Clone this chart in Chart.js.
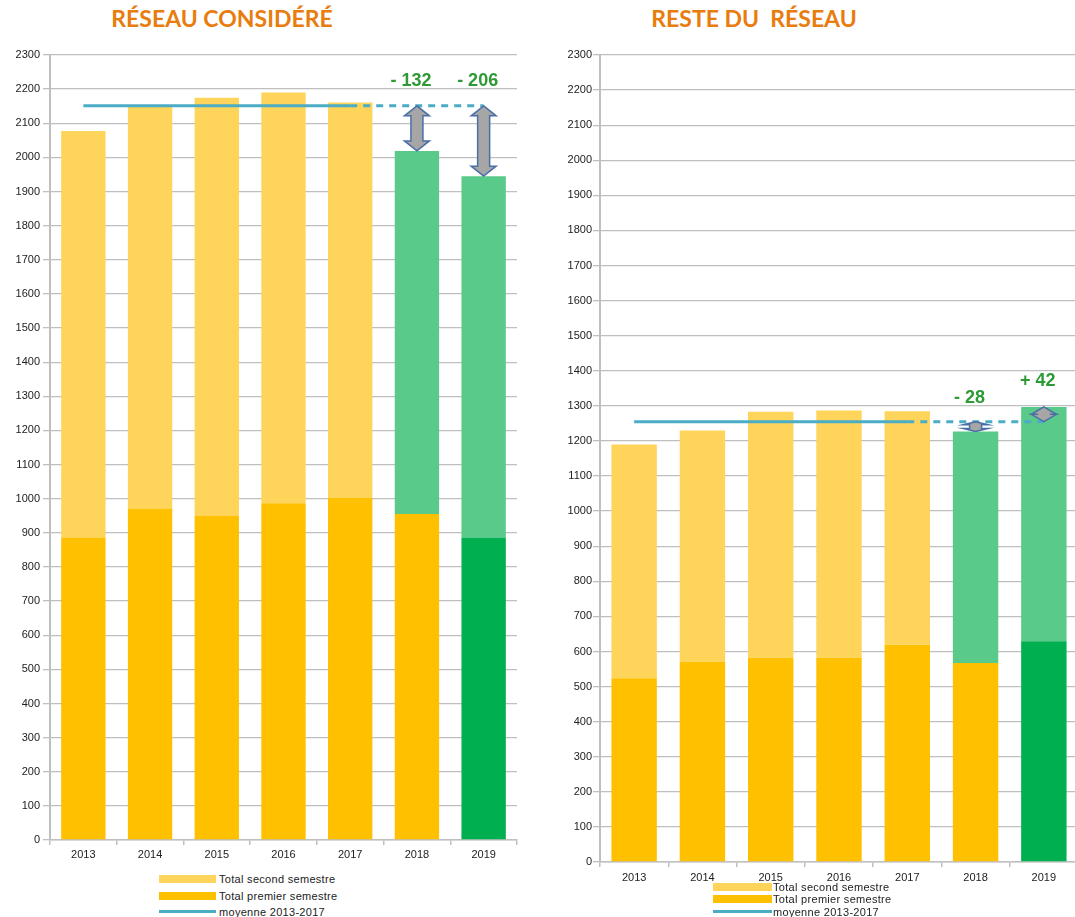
<!DOCTYPE html>
<html>
<head>
<meta charset="utf-8">
<script src="https://cdn.jsdelivr.net/npm/chart.js@4"></script>
<style>
  html, body { margin:0; padding:0; background:#fff; width:1075px; height:917px; overflow:hidden; position:relative; font-family:"Liberation Sans", Arial, sans-serif; }
  .title { position:absolute; top:7px; line-height:23px; font-family:Lato, "Open Sans", sans-serif; font-weight:bold; font-size:23px; color:#E97C0E; white-space:pre; transform:translateX(-50%); }
  .wrap { position:absolute; }
  .leg { position:absolute; font-size:11px; letter-spacing:0.3px; color:#222; white-space:nowrap; line-height:12px; }
  .sw { position:absolute; }
</style>
</head>
<body>
<div class="title" style="left:222px;">RÉSEAU CONSIDÉRÉ</div>
<div class="title" style="left:754px;">RESTE DU  RÉSEAU</div>

<div class="wrap" style="left:0px; top:40px;"><canvas id="c1" width="530" height="830"></canvas></div>
<div class="wrap" style="left:540px; top:40px;"><canvas id="c2" width="545" height="851"></canvas></div>

<!-- legends -->
<div class="sw" style="left:159px; top:875px; width:57px; height:8px; background:#FFD45A;"></div>
<div class="leg" style="left:219px; top:873px;">Total second semestre</div>
<div class="sw" style="left:159px; top:892px; width:57px; height:8px; background:#FFC000;"></div>
<div class="leg" style="left:219px; top:890px;">Total premier semestre</div>
<div class="sw" style="left:159px; top:910px; width:57px; height:3px; background:#4BACC6;"></div>
<div class="leg" style="left:219px; top:906px;">moyenne 2013-2017</div>

<div class="sw" style="left:713px; top:883px; width:59px; height:8px; background:#FFD45A;"></div>
<div class="leg" style="left:773px; top:881px;">Total second semestre</div>
<div class="sw" style="left:713px; top:895px; width:59px; height:8px; background:#FFC000;"></div>
<div class="leg" style="left:773px; top:893px;">Total premier semestre</div>
<div class="sw" style="left:713px; top:910px; width:59px; height:3px; background:#4BACC6;"></div>
<div class="leg" style="left:773px; top:906px;">moyenne 2013-2017</div>

<script>
const years = ['2013','2014','2015','2016','2017','2018','2019'];

// Réseau considéré
const premierLeft = [886, 971, 951, 987, 1002, 955, 886];
const secondLeft  = [1191, 1181, 1224, 1203, 1159, 1064, 1059];
const moyenneLeft = [2151, 2151, 2151, 2151, 2151, 2151, 2151];
const totalLeft   = [2077, 2152, 2175, 2190, 2161, 2019, 1945];
const ecartLeft   = [null, null, null, null, null, '- 132', '- 206'];
const ecartLeftPos = [null, null, null, null, null, 2225, 2225];

// Reste du réseau
const premierRight = [524, 571, 582, 582, 619, 567, 629];
const secondRight  = [666, 659, 701, 705, 666, 660, 668];
const moyenneRight = [1255, 1255, 1255, 1255, 1255, 1255, 1255];
const totalRight   = [1190, 1230, 1283, 1287, 1285, 1227, 1297];
const ecartRight   = [null, null, null, null, null, '- 28', '+ 42'];
const ecartRightPos = [null, null, null, null, null, 1321, 1371];

const yTicks = [0,100,200,300,400,500,600,700,800,900,1000,1100,1200,1300,1400,1500,1600,1700,1800,1900,2000,2100,2200,2300];

const colPremier = ['#FFC000','#FFC000','#FFC000','#FFC000','#FFC000','#FFC000','#00B050'];
const colSecond  = ['#FFD45A','#FFD45A','#FFD45A','#FFD45A','#FFD45A','#5ACA8A','#5ACA8A'];

const annotPlugin = {
  id: 'annot',
  afterDatasetsDraw(chart, args, opts) {
    const ctx = chart.ctx;
    const xs = chart.scales.x, ys = chart.scales.y;
    ctx.save();
    opts.total.forEach((t, i) => {
      if (opts.labels[i] == null) return;
      const x = xs.getPixelForValue(i);
      const y1 = ys.getPixelForValue(opts.mean[i]);
      const y2 = ys.getPixelForValue(t);
      const top = Math.min(y1, y2), bot = Math.max(y1, y2);
      const span = bot - top;
      const hl = Math.min(opts.head[i], span / 2);
      const hw = 12.5, sw = 6;
      ctx.beginPath();
      ctx.moveTo(x, top);
      ctx.lineTo(x + hw, top + hl);
      ctx.lineTo(x + sw, top + hl);
      ctx.lineTo(x + sw, bot - hl);
      ctx.lineTo(x + hw, bot - hl);
      ctx.lineTo(x, bot);
      ctx.lineTo(x - hw, bot - hl);
      ctx.lineTo(x - sw, bot - hl);
      ctx.lineTo(x - sw, top + hl);
      ctx.lineTo(x - hw, top + hl);
      ctx.closePath();
      ctx.fillStyle = '#A6A6A6';
      ctx.fill();
      ctx.lineWidth = 1.5;
      ctx.strokeStyle = '#4A6FA5';
      ctx.stroke();
      // label
      ctx.font = 'bold 18px "Liberation Sans", Arial, sans-serif';
      ctx.fillStyle = '#2E9A34';
      ctx.textAlign = 'center';
      ctx.textBaseline = 'middle';
      ctx.fillText(opts.labels[i], x - 6, ys.getPixelForValue(opts.labelPos[i]));
    });
    ctx.restore();
  }
};

function makeChart(id, premier, second, moyenne, total, labels, labelPos, layout) {
  return new Chart(document.getElementById(id), {
    type: 'bar',
    data: {
      labels: years,
      datasets: [
        { label: 'Total premier semestre', data: premier, backgroundColor: colPremier, stack: 'bars', order: 2,
          barPercentage: 0.665, categoryPercentage: 1.0 },
        { label: 'Total second semestre', data: second, backgroundColor: colSecond, stack: 'bars', order: 2,
          barPercentage: 0.665, categoryPercentage: 1.0 },
        { type: 'line', label: 'moyenne 2013-2017', data: moyenne, stack: 'line', order: 1,
          borderColor: '#4BACC6', borderWidth: 3, pointRadius: 0, fill: false,
          segment: { borderDash: c => c.p0DataIndex >= 4 ? [7, 6] : undefined } }
      ]
    },
    options: {
      responsive: false,
      animation: false,
      devicePixelRatio: 1,
      layout: { padding: layout.padding },
      plugins: {
        legend: { display: false },
        tooltip: { enabled: false },
        annot: { total: total, mean: moyenne, labels: labels, labelPos: labelPos, head: layout.head }
      },
      scales: {
        x: {
          stacked: true,
          grid: { display: true, drawOnChartArea: false, drawTicks: true, tickLength: 5, offset: true, color: '#BFBFBF', lineWidth: 1.5 },
          border: { display: true, color: '#BFBFBF', width: 1.5 },
          ticks: { font: { size: 11, family: '"Liberation Sans", Arial, sans-serif' }, color: '#222', padding: layout.xPad },
          afterFit: s => { s.height = layout.xH; }
        },
        y: {
          stacked: true,
          min: 0, max: 2300,
          afterBuildTicks: s => { s.ticks = yTicks.map(v => ({ value: v })); },
          grid: { color: '#BFBFBF', lineWidth: 1.3, tickLength: 7 },
          border: { display: true, color: '#BFBFBF', width: 2 },
          ticks: { font: { size: 11, family: '"Liberation Sans", Arial, sans-serif' }, color: '#222', padding: layout.yPad,
                   callback: v => String(v) },
          afterFit: s => { s.width = layout.yW; }
        }
      }
    },
    plugins: [annotPlugin]
  });
}

makeChart('c1', premierLeft, secondLeft, moyenneLeft, totalLeft, ecartLeft, ecartLeftPos,
  { padding: { top: 15, right: 13, bottom: 0, left: 0 }, yW: 50, xH: 30, xPad: 3, yPad: 3,
    head: [0,0,0,0,0,10,10] });
makeChart('c2', premierRight, secondRight, moyenneRight, totalRight, ecartRight, ecartRightPos,
  { padding: { top: 15, right: 7, bottom: 0, left: 0 }, yW: 60, xH: 29, xPad: 4, yPad: 1,
    head: [0,0,0,0,0,3,9] });
</script>
</body>
</html>
